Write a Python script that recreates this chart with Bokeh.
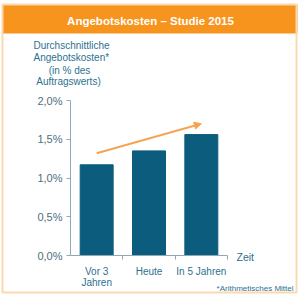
from bokeh.plotting import figure
from bokeh.models import (Range1d, FixedTicker, Arrow, NormalHead, LinearAxis)
from bokeh.core.properties import value
from bokeh.embed import file_html
from bokeh.resources import INLINE

# ---- data ----
categories = ["Vor 3\nJahren", "Heute", "In 5 Jahren"]
values = [1.17, 1.35, 1.56]
y_ticks = [0.0, 0.5, 1.0, 1.5, 2.0]
y_tick_labels = ["0,0%", "0,5%", "1,0%", "1,5%", "2,0%"]
trend_start = 1.32
trend_end = 1.70
title_text = "Angebotskosten \u2013 Studie 2015"
ylabel_lines = ["Durchschnittliche", "Angebotskosten*", "(in % des", "Auftragswerts)"]
x_axis_title = "Zeit"
footnote = "*Arithmetisches Mittel"

# ---- layout constants (canvas pixels) ----
W, H = 300, 300
FL, FR, FT, FB = 70, 227, 100, 255  # plot area edges in canvas px
UX = (FR - FL) / len(categories)      # px per category
UY = (FB - FT) / 2.0                  # px per 1 %

def dx(X):
    return (X - FL) / UX
def dy(Y):
    return (FB - Y) / UY

BAR = "#0B5C7D"
ORANGE = "#F7941E"
ARROW = "#F5A552"
BORDER = "#FAD8B0"
TEAL = "#2D7191"
GREY = "#4E6E7E"
AXIS = "#8EA8B6"
FONT = "Liberation Sans"

p = figure(width=W, height=H, output_backend="svg", toolbar_location=None,
           x_range=Range1d(dx(0), dx(W)), y_range=Range1d(dy(H), dy(0)),
           min_border=0, x_axis_location=None, y_axis_location=None)
p.grid.visible = False
p.outline_line_color = None
p.background_fill_color = "white"
p.border_fill_color = "white"

# frame decorations
p.quad(left=dx(2), right=dx(297), top=dy(4), bottom=dy(33), fill_color=ORANGE, line_color=None)
p.quad(left=dx(2), right=dx(296), top=dy(4), bottom=dy(292), fill_alpha=0,
       line_color=BORDER, line_width=2)

xs = [i + 0.5 for i in range(len(categories))]
p.vbar(x=xs, top=values, width=0.63, color=BAR)

yax = LinearAxis(ticker=FixedTicker(ticks=y_ticks), fixed_location=0, bounds=(0, 2.0),
                 major_label_overrides={t: l for t, l in zip(y_ticks, y_tick_labels)})
yax.axis_line_color = AXIS
yax.major_tick_line_color = AXIS
yax.major_tick_out = 4
yax.major_tick_in = 0
yax.minor_tick_line_color = None
yax.major_label_text_color = GREY
yax.major_label_text_font = FONT
yax.major_label_text_font_size = "11px"
yax.major_label_standoff = 4
p.add_layout(yax, "left")

xax = LinearAxis(ticker=FixedTicker(ticks=xs, minor_ticks=[1, 2, 3]), fixed_location=0,
                 bounds=(0, len(categories)),
                 major_label_overrides={x: c for x, c in zip(xs, categories)})
xax.axis_line_color = AXIS
xax.major_tick_line_color = None
xax.major_tick_out = 0
xax.major_tick_in = 0
xax.minor_tick_line_color = AXIS
xax.minor_tick_out = 4
xax.minor_tick_in = 0
xax.major_label_text_color = TEAL
xax.major_label_text_font = FONT
xax.major_label_text_font_size = "10px"
xax.major_label_text_line_height = 1.0
xax.major_label_standoff = 6
p.add_layout(xax, "below")

p.add_layout(Arrow(x_start=xs[0], y_start=trend_start, x_end=xs[-1], y_end=trend_end,
                   line_color=ARROW, line_width=2,
                   end=NormalHead(size=7, fill_color=ARROW, line_color=ARROW)))

def lab(txt, X, Y, size, color, align="left", bold=False):
    p.text(x=[dx(X)], y=[dy(Y)], text=[txt], text_font=value(FONT),
           text_font_size=size, text_color=color, text_align=align,
           text_baseline="middle", text_font_style="bold" if bold else "normal")

lab(title_text, 150, 20, "11.5px", "white", "center", True)
lab(ylabel_lines[0], 33, 45, "10px", TEAL)
lab(ylabel_lines[1], 33, 57, "10px", TEAL)
lab(ylabel_lines[2], 69, 70, "10px", TEAL, "center")
lab(ylabel_lines[3], 68, 81, "10px", TEAL, "center")
lab(x_axis_title, 236, 256, "10.5px", TEAL)
lab(footnote, 293, 288, "8px", TEAL, "right")

open("out.html", "w").write(file_html(p, INLINE))
